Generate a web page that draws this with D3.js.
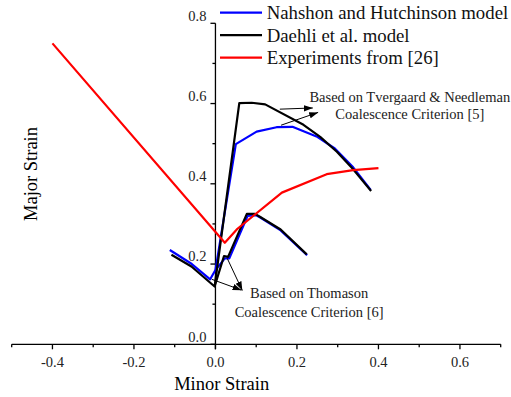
<!DOCTYPE html>
<html>
<head>
<meta charset="utf-8">
<script src="https://cdn.jsdelivr.net/npm/d3@7"></script>
<style>
  html, body { margin: 0; padding: 0; background: #fff; }
  svg { display: block; }
  svg text { font-family: 'Liberation Serif', 'Times New Roman', 'DejaVu Serif', serif; }
</style>
</head>
<body>
<svg id="chart" width="511" height="397"></svg>
<script>
// Nahshon and Hutchinson model (blue): left part + upper (Tvergaard & Needleman) branch
const nhUpperX = [-0.112, -0.058, -0.013, 0.0, 0.050, 0.101, 0.150, 0.189, 0.248, 0.293, 0.338, 0.381];
const nhUpperY = [0.235, 0.200, 0.162, 0.185, 0.499, 0.530, 0.541, 0.542, 0.518, 0.488, 0.441, 0.385];
// lower (Thomason) branch
const nhLowerX = [0.0, 0.023, 0.034, 0.079, 0.099, 0.110, 0.160, 0.225];
const nhLowerY = [0.185, 0.214, 0.214, 0.320, 0.322, 0.316, 0.284, 0.222];

// Daehli et al. model (black)
const daUpperX = [-0.108, -0.059, -0.002, 0.0585, 0.089, 0.122, 0.216, 0.257, 0.298, 0.338, 0.382];
const daUpperY = [0.223, 0.194, 0.144, 0.601, 0.602, 0.598, 0.547, 0.517, 0.480, 0.436, 0.382];
const daLowerX = [-0.002, 0.021, 0.031, 0.077, 0.097, 0.109, 0.160, 0.224];
const daLowerY = [0.144, 0.220, 0.218, 0.325, 0.325, 0.318, 0.286, 0.224];

// Experiments from [26] (red)
const expX = [-0.4, 0.023, 0.054, 0.163, 0.273, 0.338, 0.400];
const expY = [0.750, 0.253, 0.288, 0.378, 0.424, 0.434, 0.439];

const xMajorTicks = [-0.4, -0.2, 0.0, 0.2, 0.4, 0.6];
const xMinorTicks = [-0.5, -0.3, -0.1, 0.1, 0.3, 0.5, 0.7];
const yMajorTicks = [0.0, 0.2, 0.4, 0.6, 0.8];
const yMinorTicks = [0.1, 0.3, 0.5, 0.7];

const legendLabels = ['Nahshon and Hutchinson model', 'Daehli et al. model', 'Experiments from [26]'];
const legendColors = ['#0000ff', '#000000', '#ff0000'];

// annotation arrows in data units: [x1, y1, x2, y2]
const tnArrows = [[0.158, 0.586, 0.239, 0.589], [0.161, 0.546, 0.252, 0.578]];
const thArrows = [[0.029, 0.214, 0.066, 0.134], [-0.009, 0.162, 0.064, 0.135]];
const tnText = ['Based on Tvergaard & Needleman', 'Coalescence Criterion [5]'];
const thText = ['Based on Thomason', 'Coalescence Criterion [6]'];

const FONT = "'Liberation Serif', 'Times New Roman', serif";
const svg = d3.select('#chart').attr('font-family', FONT);
const x = d3.scaleLinear().domain([-0.5, 0.7]).range([11.7, 500.7]);
const y = d3.scaleLinear().domain([0, 0.8]).range([344.3, 23.3]);
const fmt = d => d.toFixed(1); // plain hyphen minus, as in the original

svg.append('defs').append('marker')
  .attr('id', 'arrow')
  .attr('viewBox', '0 0 10 10')
  .attr('refX', 10).attr('refY', 5)
  .attr('markerWidth', 9).attr('markerHeight', 9)
  .attr('markerUnits', 'userSpaceOnUse')
  .attr('orient', 'auto')
  .append('path')
  .attr('d', 'M0,1.5 L10,5 L0,8.5 Z')
  .attr('fill', '#000');

// x axis
const xAxis = svg.append('g').attr('stroke', '#000').attr('stroke-width', 1.3);
xAxis.append('line')
  .attr('x1', x(-0.5)).attr('x2', x(0.7))
  .attr('y1', y(0)).attr('y2', y(0));
xAxis.selectAll('.xmaj').data(xMajorTicks).join('line')
  .attr('x1', d => x(d)).attr('x2', d => x(d))
  .attr('y1', y(0)).attr('y2', y(0) + 5);
xAxis.selectAll('.xmin').data(xMinorTicks).join('line')
  .attr('class', 'xmin')
  .attr('x1', d => x(d)).attr('x2', d => x(d))
  .attr('y1', y(0)).attr('y2', y(0) + 3);
svg.append('g').selectAll('text').data(xMajorTicks).join('text')
  .attr('x', d => x(d)).attr('y', 366.5)
  .attr('text-anchor', 'middle')
  .attr('font-family', FONT)
  .attr('font-size', '14.5px')
  .attr('fill', '#222')
  .text(d => fmt(d));

// y axis
const yAxis = svg.append('g').attr('stroke', '#000').attr('stroke-width', 1.3);
yAxis.append('line')
  .attr('x1', x(0)).attr('x2', x(0))
  .attr('y1', y(0) + 5).attr('y2', y(0.8));
yAxis.selectAll('.ymaj').data(yMajorTicks).join('line')
  .attr('class', 'ymaj')
  .attr('x1', x(0)).attr('x2', x(0) - 5)
  .attr('y1', d => y(d)).attr('y2', d => y(d));
yAxis.selectAll('.ymin').data(yMinorTicks).join('line')
  .attr('class', 'ymin')
  .attr('x1', x(0)).attr('x2', x(0) - 3)
  .attr('y1', d => y(d)).attr('y2', d => y(d));
svg.append('g').selectAll('text').data(yMajorTicks).join('text')
  .attr('x', x(0) - 9).attr('y', d => y(d) - 2.8)
  .attr('text-anchor', 'end')
  .attr('font-family', FONT)
  .attr('font-size', '14.5px')
  .attr('fill', '#222')
  .text(d => fmt(d));

// axis titles
svg.append('text')
  .attr('x', 221.7).attr('y', 390)
  .attr('text-anchor', 'middle')
  .attr('font-family', FONT)
  .attr('font-size', '18.5px')
  .text('Minor Strain');
svg.append('text')
  .attr('transform', 'translate(37,174) rotate(-90)')
  .attr('text-anchor', 'middle')
  .attr('font-family', FONT)
  .attr('font-size', '18.5px')
  .text('Major Strain');

// curves
const line = d3.line().x(d => x(d[0])).y(d => y(d[1]));
const zip = (xs, ys) => xs.map((v, i) => [v, ys[i]]);
const series = [
  { pts: zip(nhUpperX, nhUpperY), color: legendColors[0] },
  { pts: zip(nhLowerX, nhLowerY), color: legendColors[0] },
  { pts: zip(daUpperX, daUpperY), color: legendColors[1] },
  { pts: zip(daLowerX, daLowerY), color: legendColors[1] },
  { pts: zip(expX, expY), color: legendColors[2] }
];
svg.append('g').selectAll('path').data(series).join('path')
  .attr('d', d => line(d.pts))
  .attr('fill', 'none')
  .attr('stroke', d => d.color)
  .attr('stroke-width', 2.2)
  .attr('stroke-linejoin', 'round');

// annotations
svg.append('g').selectAll('line').data(tnArrows.concat(thArrows)).join('line')
  .attr('x1', d => x(d[0])).attr('y1', d => y(d[1]))
  .attr('x2', d => x(d[2])).attr('y2', d => y(d[3]))
  .attr('stroke', '#000')
  .attr('stroke-width', 1)
  .attr('marker-end', 'url(#arrow)');

function annot(lines, cx, y1, y2) {
  svg.append('g').selectAll('text').data(lines).join('text')
    .attr('x', x(cx))
    .attr('y', (d, i) => y(i === 0 ? y1 : y2))
    .attr('text-anchor', 'middle')
    .attr('font-family', FONT)
    .attr('font-size', '14.5px')
    .attr('fill', '#222')
    .text(d => d);
}
annot(tnText, 0.477, 0.605, 0.561);
annot(thText, 0.230, 0.115, 0.069);

// legend
const legend = svg.append('g');
const rows = legend.selectAll('g').data(legendLabels).join('g')
  .attr('transform', (d, i) => `translate(220, ${12.7 + i * 22.5})`);
rows.append('line')
  .attr('x1', 0).attr('x2', 42)
  .attr('stroke', (d, i) => legendColors[i])
  .attr('stroke-width', 2.2);
rows.append('text')
  .attr('x', 46.7).attr('y', 6.3)
  .attr('font-family', FONT)
  .attr('font-size', '18.8px')
  .attr('fill', '#111')
  .text(d => d);
</script>
</body>
</html>
